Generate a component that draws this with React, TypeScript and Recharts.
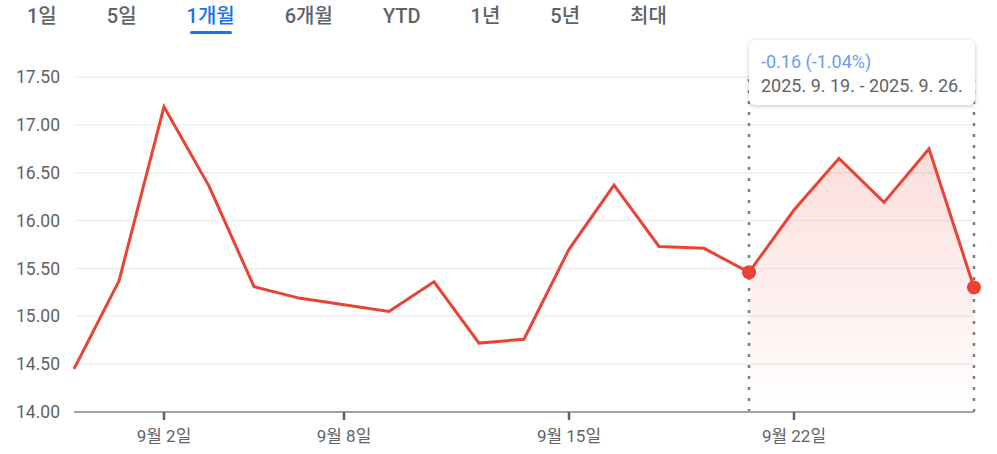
import {
  ComposedChart,
  Line,
  Area,
  XAxis,
  YAxis,
  CartesianGrid,
  ReferenceLine,
  ReferenceDot,
} from 'recharts';

const dates = [
  '8월 28일', '8월 29일', '9월 2일', '9월 3일', '9월 4일', '9월 5일', '9월 8일',
  '9월 9일', '9월 10일', '9월 11일', '9월 12일', '9월 15일', '9월 16일', '9월 17일',
  '9월 18일', '9월 19일', '9월 22일', '9월 23일', '9월 24일', '9월 25일', '9월 26일',
];
const prices = [
  14.45, 15.37, 17.19, 16.36, 15.31, 15.19, 15.12,
  15.05, 15.36, 14.72, 14.76, 15.70, 16.37, 15.73,
  15.71, 15.46, 16.11, 16.65, 16.19, 16.75, 15.30,
];
const xTicks = ['9월 2일', '9월 8일', '9월 15일', '9월 22일'];
const yTicks = [14, 14.5, 15, 15.5, 16, 16.5, 17, 17.5];
const ranges = ['1일', '5일', '1개월', '6개월', 'YTD', '1년', '5년', '최대'];
const activeRange = '1개월';
const selStart = '9월 19일';
const selEnd = '9월 26일';
const changeLabel = '-0.16 (-1.04%)';
const periodLabel = '2025. 9. 19. - 2025. 9. 26.';

const RED = '#ea4335';
const FONT = 'Roboto, "Noto Sans CJK KR", sans-serif';

const startIdx = dates.indexOf(selStart);
const endIdx = dates.indexOf(selEnd);

const data = dates.map((date, i) => ({
  date,
  price: prices[i],
  sel: i >= startIdx && i <= endIdx ? prices[i] : null,
}));

function RangeTabs() {
  return (
    <div
      style={{
        position: 'absolute',
        left: 27,
        top: 0,
        display: 'flex',
        gap: 50,
        fontFamily: FONT,
        fontSize: 20,
        fontWeight: 500,
      }}
    >
      {ranges.map((r) => (
        <div
          key={r}
          style={{
            position: 'relative',
            height: 34,
            lineHeight: '32px',
            color: r === activeRange ? '#1a73e8' : '#5f6368',
          }}
        >
          {r}
          {r === activeRange && (
            <div
              style={{
                position: 'absolute',
                left: 3,
                right: 3,
                top: 31,
                height: 3,
                borderRadius: 2,
                background: '#1a73e8',
              }}
            />
          )}
        </div>
      ))}
    </div>
  );
}

export default function App() {
  return (
    <div
      style={{
        position: 'absolute',
        left: 0,
        top: 0,
        width: 997,
        height: 454,
        background: '#fff',
        fontFamily: FONT,
        overflow: 'hidden',
      }}
    >
      <RangeTabs />
      <div style={{ position: 'absolute', left: 0, top: 0 }}>
        <ComposedChart
          width={997}
          height={454}
          data={data}
          margin={{ top: 77, right: 23, bottom: 0, left: 0 }}
        >
          <defs>
            <linearGradient id="selFill" x1="0" y1="0" x2="0" y2="1">
              <stop offset="0%" stopColor={RED} stopOpacity={0.3} />
              <stop offset="100%" stopColor={RED} stopOpacity={0} />
            </linearGradient>
          </defs>
          <CartesianGrid vertical={false} stroke="#efefef" strokeWidth={1.5} />
          <XAxis
            dataKey="date"
            ticks={xTicks}
            interval={0}
            height={42}
            tickSize={8}
            tickMargin={10}
            axisLine={{ stroke: '#a0a4a8', strokeWidth: 2 }}
            tickLine={{ stroke: '#5f6368', strokeWidth: 2.5 }}
            tick={{ fontSize: 17, fill: '#5f6368', fontFamily: FONT }}
          />
          <YAxis
            domain={[14, 17.5]}
            ticks={yTicks}
            width={74}
            axisLine={false}
            tickLine={false}
            tickMargin={8}
            tickFormatter={(v: number) => v.toFixed(2)}
            tick={{ fontSize: 17.5, fill: '#5f6368', fontFamily: FONT }}
          />
          <Area
            type="linear"
            dataKey="sel"
            stroke="none"
            fill="url(#selFill)"
            baseValue={14}
            isAnimationActive={false}
          />
          <ReferenceLine
            x={selStart}
            stroke="#7a7f85"
            strokeWidth={2.5}
            strokeDasharray="3 8"
          />
          <ReferenceLine
            x={selEnd}
            stroke="#7a7f85"
            strokeWidth={2.5}
            strokeDasharray="3 8"
          />
          <Line
            type="linear"
            dataKey="price"
            stroke={RED}
            strokeWidth={3}
            dot={false}
            activeDot={false}
            isAnimationActive={false}
          />
          <ReferenceDot x={selStart} y={prices[startIdx]} r={7} fill={RED} stroke="none" />
          <ReferenceDot x={selEnd} y={prices[endIdx]} r={7} fill={RED} stroke="none" />
        </ComposedChart>
      </div>
      <div
        style={{
          position: 'absolute',
          left: 749,
          top: 40,
          width: 226,
          height: 65,
          boxSizing: 'border-box',
          padding: '10px 12px',
          background: '#fff',
          borderRadius: 6,
          boxShadow: '0 1px 4px rgba(60,64,67,0.3)',
          fontSize: 18,
          lineHeight: '24px',
          whiteSpace: 'nowrap',
        }}
      >
        <div style={{ color: '#6a9cf4' }}>{changeLabel}</div>
        <div style={{ color: '#5f6368' }}>{periodLabel}</div>
      </div>
    </div>
  );
}
